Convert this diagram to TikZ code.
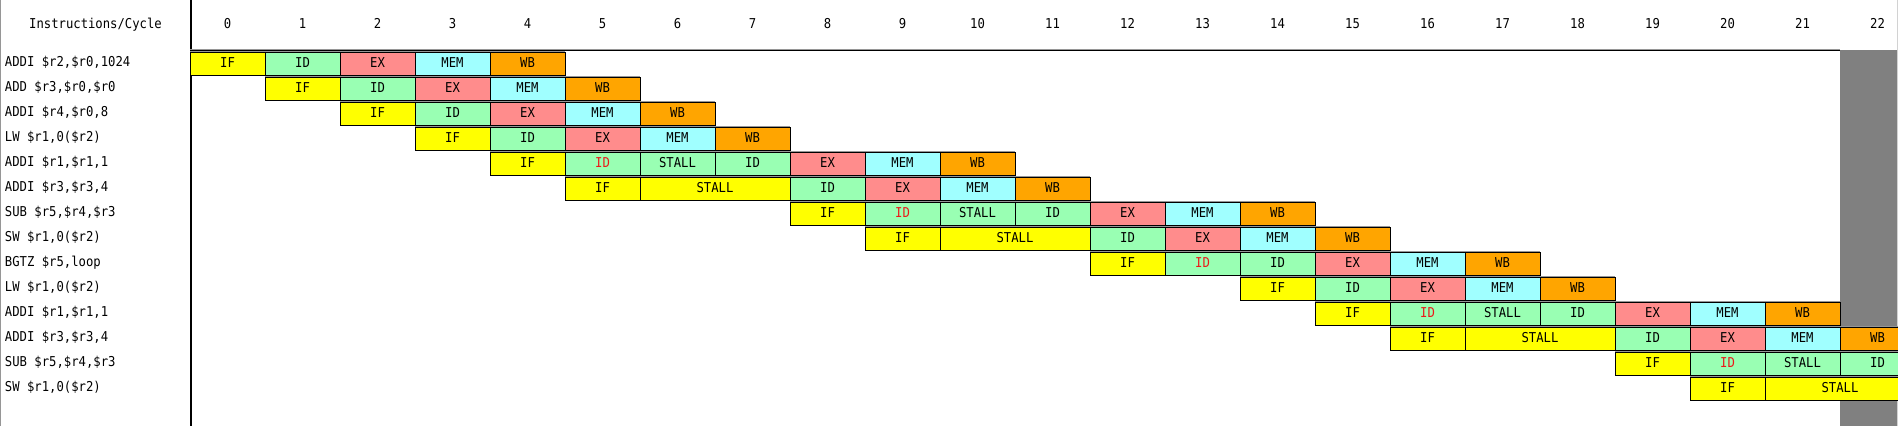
\documentclass[tikz,border=0pt]{standalone}
\usepackage{fontspec}
\newfontfamily\pipefont[FakeStretch=0.9]{DejaVu Sans Mono}
\definecolor{cIF}{RGB}{255,255,0}
\definecolor{cID}{RGB}{153,255,179}
\definecolor{cEX}{RGB}{255,140,140}
\definecolor{cMEM}{RGB}{160,255,255}
\definecolor{cWB}{RGB}{255,165,0}
\definecolor{blockgray}{RGB}{128,128,128}
\definecolor{edgegray}{RGB}{150,150,150}
\definecolor{redtxt}{RGB}{235,25,25}
\newcommand\pstage[6]{%
  \node[cell, fill=#5, minimum width=#4*75pt] (#1) at ({190+75*#3},{52.5+25*#2}) {#6};}
\newcommand\pbar[2]{%
  \draw[edgegray, line width=1pt] ([yshift=1.5pt]#1.north west) -- ([yshift=1.5pt]#2.north east);
  \draw[black, line width=1pt] ([yshift=-0.8pt]#1.south west) -- ([yshift=-0.8pt]#2.south east);}
\newcommand\rid{\textcolor{redtxt}{ID}}
\begin{document}
\begin{tikzpicture}[x=1pt,y=-1pt,
  every node/.style={font=\pipefont\fontsize{13.6}{15}\selectfont, inner sep=0pt, outer sep=0pt},
  cell/.style={draw=black, line width=1pt, anchor=north west, minimum height=22.5pt, text height=9.8pt, text depth=2.3pt},
  lbl/.style={anchor=base west},
  hdr/.style={anchor=base}]
\useasboundingbox (0,0) rectangle (1898,426);
\clip (0,0) rectangle (1898,426);
\fill[white] (0,0) rectangle (1898,426);
% frame
\draw[edgegray, line width=1pt] (0.5,0) -- (0.5,426);
\fill[blockgray] (1840,50) rectangle (1896.5,426);
\draw[gray!35, line width=1pt] (1897.5,0) -- (1897.5,426);
\draw[black, line width=1.5pt] (190.75,0) -- (190.75,426);
\draw[edgegray, line width=1pt] (190,49.3) -- (1840,49.3);
\draw[black, line width=1.3pt] (190,50.8) -- (1840,50.8);
% header
\node[hdr] (hd) at (95.5,28.3) {Instructions/Cycle};
\foreach \k in {0,...,22} {\node[hdr] (cyc\k) at ({227.5+75*\k},28.3) {\k};}
% instruction labels
\node[lbl] (i0) at (5,66) {ADDI \$r2,\$r0,1024};
\node[lbl] (i1) at (5,91) {ADD \$r3,\$r0,\$r0};
\node[lbl] (i2) at (5,116) {ADDI \$r4,\$r0,8};
\node[lbl] (i3) at (5,141) {LW \$r1,0(\$r2)};
\node[lbl] (i4) at (5,166) {ADDI \$r1,\$r1,1};
\node[lbl] (i5) at (5,191) {ADDI \$r3,\$r3,4};
\node[lbl] (i6) at (5,216) {SUB \$r5,\$r4,\$r3};
\node[lbl] (i7) at (5,241) {SW \$r1,0(\$r2)};
\node[lbl] (i8) at (5,266) {BGTZ \$r5,loop};
\node[lbl] (i9) at (5,291) {LW \$r1,0(\$r2)};
\node[lbl] (i10) at (5,316) {ADDI \$r1,\$r1,1};
\node[lbl] (i11) at (5,341) {ADDI \$r3,\$r3,4};
\node[lbl] (i12) at (5,366) {SUB \$r5,\$r4,\$r3};
\node[lbl] (i13) at (5,391) {SW \$r1,0(\$r2)};
% row 0
\pstage{r0a}{0}{0}{1}{cIF}{IF}
\pstage{r0b}{0}{1}{1}{cID}{ID}
\pstage{r0c}{0}{2}{1}{cEX}{EX}
\pstage{r0d}{0}{3}{1}{cMEM}{MEM}
\pstage{r0e}{0}{4}{1}{cWB}{WB}
\pbar{r0a}{r0e}
% row 1
\pstage{r1a}{1}{1}{1}{cIF}{IF}
\pstage{r1b}{1}{2}{1}{cID}{ID}
\pstage{r1c}{1}{3}{1}{cEX}{EX}
\pstage{r1d}{1}{4}{1}{cMEM}{MEM}
\pstage{r1e}{1}{5}{1}{cWB}{WB}
\pbar{r1a}{r1e}
% row 2
\pstage{r2a}{2}{2}{1}{cIF}{IF}
\pstage{r2b}{2}{3}{1}{cID}{ID}
\pstage{r2c}{2}{4}{1}{cEX}{EX}
\pstage{r2d}{2}{5}{1}{cMEM}{MEM}
\pstage{r2e}{2}{6}{1}{cWB}{WB}
\pbar{r2a}{r2e}
% row 3
\pstage{r3a}{3}{3}{1}{cIF}{IF}
\pstage{r3b}{3}{4}{1}{cID}{ID}
\pstage{r3c}{3}{5}{1}{cEX}{EX}
\pstage{r3d}{3}{6}{1}{cMEM}{MEM}
\pstage{r3e}{3}{7}{1}{cWB}{WB}
\pbar{r3a}{r3e}
% row 4
\pstage{r4a}{4}{4}{1}{cIF}{IF}
\pstage{r4b}{4}{5}{1}{cID}{\rid}
\pstage{r4c}{4}{6}{1}{cID}{STALL}
\pstage{r4d}{4}{7}{1}{cID}{ID}
\pstage{r4e}{4}{8}{1}{cEX}{EX}
\pstage{r4f}{4}{9}{1}{cMEM}{MEM}
\pstage{r4g}{4}{10}{1}{cWB}{WB}
\pbar{r4a}{r4g}
% row 5
\pstage{r5a}{5}{5}{1}{cIF}{IF}
\pstage{r5b}{5}{6}{2}{cIF}{STALL}
\pstage{r5c}{5}{8}{1}{cID}{ID}
\pstage{r5d}{5}{9}{1}{cEX}{EX}
\pstage{r5e}{5}{10}{1}{cMEM}{MEM}
\pstage{r5f}{5}{11}{1}{cWB}{WB}
\pbar{r5a}{r5f}
% row 6
\pstage{r6a}{6}{8}{1}{cIF}{IF}
\pstage{r6b}{6}{9}{1}{cID}{\rid}
\pstage{r6c}{6}{10}{1}{cID}{STALL}
\pstage{r6d}{6}{11}{1}{cID}{ID}
\pstage{r6e}{6}{12}{1}{cEX}{EX}
\pstage{r6f}{6}{13}{1}{cMEM}{MEM}
\pstage{r6g}{6}{14}{1}{cWB}{WB}
\pbar{r6a}{r6g}
% row 7
\pstage{r7a}{7}{9}{1}{cIF}{IF}
\pstage{r7b}{7}{10}{2}{cIF}{STALL}
\pstage{r7c}{7}{12}{1}{cID}{ID}
\pstage{r7d}{7}{13}{1}{cEX}{EX}
\pstage{r7e}{7}{14}{1}{cMEM}{MEM}
\pstage{r7f}{7}{15}{1}{cWB}{WB}
\pbar{r7a}{r7f}
% row 8
\pstage{r8a}{8}{12}{1}{cIF}{IF}
\pstage{r8b}{8}{13}{1}{cID}{\rid}
\pstage{r8c}{8}{14}{1}{cID}{ID}
\pstage{r8d}{8}{15}{1}{cEX}{EX}
\pstage{r8e}{8}{16}{1}{cMEM}{MEM}
\pstage{r8f}{8}{17}{1}{cWB}{WB}
\pbar{r8a}{r8f}
% row 9
\pstage{r9a}{9}{14}{1}{cIF}{IF}
\pstage{r9b}{9}{15}{1}{cID}{ID}
\pstage{r9c}{9}{16}{1}{cEX}{EX}
\pstage{r9d}{9}{17}{1}{cMEM}{MEM}
\pstage{r9e}{9}{18}{1}{cWB}{WB}
\pbar{r9a}{r9e}
% row 10
\pstage{r10a}{10}{15}{1}{cIF}{IF}
\pstage{r10b}{10}{16}{1}{cID}{\rid}
\pstage{r10c}{10}{17}{1}{cID}{STALL}
\pstage{r10d}{10}{18}{1}{cID}{ID}
\pstage{r10e}{10}{19}{1}{cEX}{EX}
\pstage{r10f}{10}{20}{1}{cMEM}{MEM}
\pstage{r10g}{10}{21}{1}{cWB}{WB}
\pbar{r10a}{r10g}
% row 11
\pstage{r11a}{11}{16}{1}{cIF}{IF}
\pstage{r11b}{11}{17}{2}{cIF}{STALL}
\pstage{r11c}{11}{19}{1}{cID}{ID}
\pstage{r11d}{11}{20}{1}{cEX}{EX}
\pstage{r11e}{11}{21}{1}{cMEM}{MEM}
\pstage{r11f}{11}{22}{1}{cWB}{WB}
\pbar{r11a}{r11f}
% row 12
\pstage{r12a}{12}{19}{1}{cIF}{IF}
\pstage{r12b}{12}{20}{1}{cID}{\rid}
\pstage{r12c}{12}{21}{1}{cID}{STALL}
\pstage{r12d}{12}{22}{1}{cID}{ID}
\pbar{r12a}{r12d}
% row 13
\pstage{r13a}{13}{20}{1}{cIF}{IF}
\pstage{r13b}{13}{21}{2}{cIF}{STALL}
\pbar{r13a}{r13b}
\end{tikzpicture}
\end{document}
